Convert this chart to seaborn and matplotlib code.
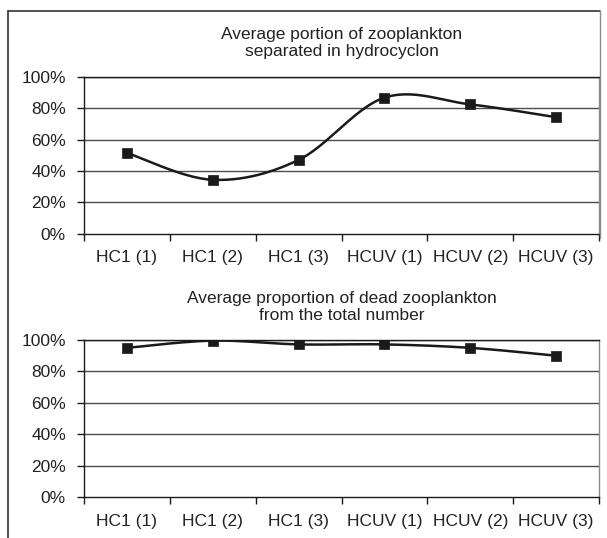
import numpy as np
import seaborn as sns
import matplotlib.pyplot as plt
from matplotlib.lines import Line2D

categories = ['HC1 (1)', 'HC1 (2)', 'HC1 (3)', 'HCUV (1)', 'HCUV (2)', 'HCUV (3)']
separated = [51.5, 34.3, 47.0, 86.8, 82.5, 74.3]
dead = [95.0, 99.6, 97.2, 97.2, 95.0, 90.0]
titles = ['Average portion of zooplankton\nseparated in hydrocyclon',
          'Average proportion of dead zooplankton\nfrom the total number']
y_ticks = [0, 20, 40, 60, 80, 100]
y_labels = [f'{v}%' for v in y_ticks]

sns.set_style('white')
plt.rcParams['font.family'] = ['Liberation Sans', 'DejaVu Sans']


def smooth(x, y, n=30):
    # Excel-style smoothed line (Catmull-Rom through the points)
    p = np.column_stack([x, y]).astype(float)
    p = np.vstack([p[0], p, p[-1]])
    out = []
    t = np.linspace(0, 1, n)[:, None]
    for i in range(1, len(p) - 2):
        p0, p1, p2, p3 = p[i - 1], p[i], p[i + 1], p[i + 2]
        c1 = p1 + (p2 - p0) / 6
        c2 = p2 - (p3 - p1) / 6
        seg = ((1 - t) ** 3) * p1 + 3 * ((1 - t) ** 2) * t * c1 + 3 * (1 - t) * t ** 2 * c2 + t ** 3 * p2
        out.append(seg if i == 1 else seg[1:])
    out = np.vstack(out)
    return out[:, 0], out[:, 1]


fig = plt.figure(figsize=(6.07, 5.38), dpi=100)
ax_top = fig.add_axes([84 / 607, 1 - 233.5 / 538, 515 / 607, 156.5 / 538])
ax_bot = fig.add_axes([84 / 607, 1 - 497 / 538, 515 / 607, 157 / 538])

FS = 12.5
xpos = np.arange(len(categories))
for ax, vals, title, ty in [(ax_top, separated, titles[0], 43 / 538),
                            (ax_bot, dead, titles[1], 307 / 538)]:
    sx, sy = smooth(xpos, vals)
    sns.lineplot(x=sx, y=sy, sort=False, estimator=None, color='#1a1a1a', lw=1.8, ax=ax, zorder=3)
    sns.scatterplot(x=xpos, y=vals, marker='s', s=62, color='#1a1a1a', edgecolor='#1a1a1a',
                    linewidth=0.5, ax=ax, zorder=4)
    ax.set_xlim(-0.5, len(categories) - 0.5)
    ax.set_ylim(0, 100)
    ax.set_yticks(y_ticks)
    ax.set_yticklabels(y_labels, fontsize=FS, color='#222222')
    for v in y_ticks[1:]:
        ax.axhline(v, color='#4d4d4d' if v < 100 else '#1a1a1a', lw=1.0, zorder=1)
    ax.set_xticks(np.arange(-0.5, len(categories), 1.0))
    ax.set_xticklabels([])
    ax.set_xticks(xpos, minor=True)
    ax.set_xticklabels(categories, minor=True, fontsize=FS, color='#222222')
    ax.tick_params(axis='x', which='major', direction='out', length=5, width=1, color='#1a1a1a', bottom=True)
    ax.tick_params(axis='x', which='minor', length=0, pad=12)
    ax.tick_params(axis='y', direction='out', length=5, width=1, color='#1a1a1a', left=True, pad=8)
    for side in ['left', 'bottom', 'top']:
        ax.spines[side].set_color('#1a1a1a')
        ax.spines[side].set_linewidth(1.0)
    ax.spines['right'].set_color('#8a8a8a')
    ax.spines['right'].set_linewidth(1.0)
    ax.grid(False)
    fig.text((84 + 599) / 2 / 607, 1 - ty, title, ha='center', va='center',
             fontsize=FS, color='#222222', linespacing=1.2)

# outer frame of the original chart
frame = dict(color='#333333', lw=1.2, transform=fig.transFigure)
fig.add_artist(Line2D([8 / 607, 8 / 607], [0, 1 - 11 / 538], **frame))
fig.add_artist(Line2D([8 / 607, 600 / 607], [1 - 11 / 538, 1 - 11 / 538], **frame))
fig.add_artist(Line2D([600 / 607, 600 / 607], [1 - 11 / 538, 1 - 238 / 538], color='#8a8a8a', lw=1.0,
                      transform=fig.transFigure))

fig.savefig('out.png', dpi=100)
